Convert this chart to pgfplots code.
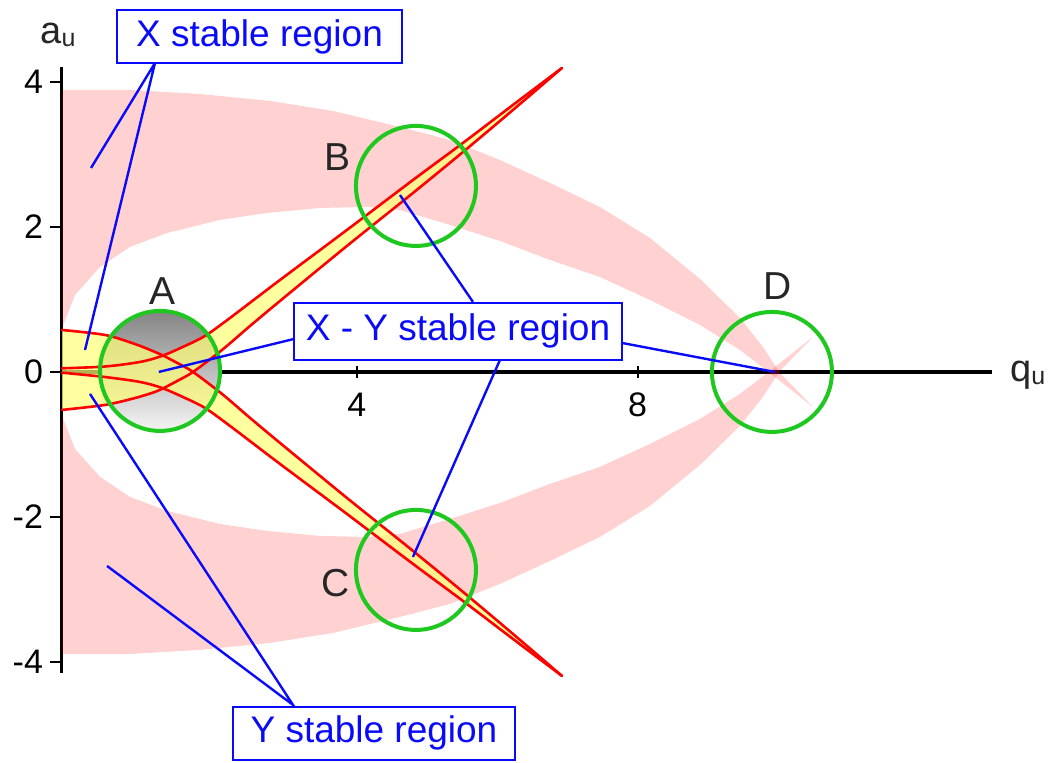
\documentclass[border=0pt]{standalone}
\usepackage{fontspec}
\setmainfont{Liberation Sans}
\usepackage{pgfplots}
\usepackage{pgfplotstable}
\pgfplotsset{compat=1.18}
\definecolor{stabpink}{RGB}{255,0,0}
\definecolor{lensyellow}{RGB}{255,255,119}
\definecolor{ringgreen}{RGB}{30,200,30}
\definecolor{notblue}{RGB}{10,10,250}

% red boundary curves (q_u, a_u)
\pgfplotstableread{
q a
-0.199 0.579
0.413 0.510
0.840 0.385
1.125 0.276
1.225 0.234
1.450 0.120
1.667 0.000
2.080 -0.303
2.479 -0.634
2.906 -0.979
3.860 -1.738
4.801 -2.469
5.513 -3.034
6.225 -3.614
6.923 -4.193
}\curveone
\pgfplotstableread{
q a
-0.199 -0.524
0.413 -0.455
0.840 -0.360
1.125 -0.276
1.225 -0.234
1.450 -0.120
1.667 0.000
2.080 0.303
2.479 0.634
2.906 0.979
3.860 1.738
4.801 2.469
5.513 3.034
6.225 3.614
6.923 4.193
}\curvetwo
\pgfplotstableread{
q a
-0.199 0.050
0.413 0.075
0.912 0.138
1.225 0.221
1.553 0.359
1.838 0.497
2.194 0.745
2.906 1.269
3.860 1.959
4.801 2.648
5.513 3.159
6.225 3.683
6.923 4.193
}\curvethree
\pgfplotstableread{
q a
-0.199 -0.010
0.413 -0.070
0.912 -0.138
1.225 -0.221
1.553 -0.359
1.838 -0.497
2.194 -0.745
2.906 -1.269
3.860 -1.959
4.801 -2.648
5.513 -3.159
6.225 -3.683
6.923 -4.193
}\curvefour

\begin{document}
\begin{tikzpicture}
\begin{axis}[
  x=35.1pt, y=36.25pt,
  xmin=-0.2, xmax=13.05, ymin=-4.15, ymax=4.2,
  axis x line*=middle, axis y line*=left,
  x axis line style={black, line width=2pt},
  y axis line style={black, line width=1.5pt},
  xtick={4,8}, ytick={-4,-2,0,2,4},
  xtick align=center, ytick align=outside,
  major tick length=6pt,
  tick style={black, line width=1pt},
  ticklabel style={font=\fontsize{17}{17}\selectfont},
  xticklabel style={yshift=-4pt},
  /pgf/number format/assume math mode=true,
  clip=false,
]
\path (axis cs:-1.083,5.131) rectangle (axis cs:13.903,-5.393);

% X and Y stable regions (pink crescents)
\addplot[fill=stabpink, fill opacity=0.18, draw=none] coordinates {
(-0.199,3.890) (0.769,3.890) (1.766,3.834) (2.764,3.738) (3.661,3.600) (4.615,3.379)
(5.328,3.200) (6.040,2.924) (6.752,2.607) (7.464,2.276) (8.177,1.848) (8.889,1.283)
(9.459,0.745) (9.786,0.345) (10.028,-0.014) (10.499,-0.483)
(9.886,-0.014) (9.459,0.303) (8.889,0.648) (8.177,0.993) (7.464,1.310) (6.752,1.545)
(6.040,1.807) (5.328,2.028) (4.615,2.234) (4.145,2.276) (3.476,2.262) (2.721,2.193)
(2.051,2.097) (1.296,1.917) (0.769,1.724) (0.342,1.448) (-0.014,1.062) (-0.199,0.607)
} --cycle;
\addplot[fill=stabpink, fill opacity=0.18, draw=none] coordinates {
(-0.199,-3.890) (0.769,-3.890) (1.766,-3.834) (2.764,-3.738) (3.661,-3.600) (4.615,-3.379)
(5.328,-3.200) (6.040,-2.924) (6.752,-2.607) (7.464,-2.276) (8.177,-1.848) (8.889,-1.283)
(9.459,-0.745) (9.786,-0.345) (10.028,0.014) (10.499,0.483)
(9.886,0.014) (9.459,-0.303) (8.889,-0.648) (8.177,-0.993) (7.464,-1.310) (6.752,-1.545)
(6.040,-1.807) (5.328,-2.028) (4.615,-2.234) (4.145,-2.276) (3.476,-2.262) (2.721,-2.193)
(2.051,-2.097) (1.296,-1.917) (0.769,-1.724) (0.342,-1.448) (-0.014,-1.062) (-0.199,-0.607)
} --cycle;

% grey disc A
\shade[top color=black!48, bottom color=black!4] (axis cs:1.197,0.014) circle[radius=30pt];

% X-Y stable region (yellow)
\addplot[fill=lensyellow, fill opacity=0.7, draw=none] coordinates {
(-0.199,0.579) (0.413,0.510) (0.840,0.385) (1.125,0.276) (1.225,0.234) (1.239,0.227)
(1.553,0.359) (1.838,0.497) (2.194,0.745) (2.906,1.269) (3.860,1.959) (4.801,2.648)
(5.513,3.159) (6.225,3.683) (6.923,4.193)
(6.225,3.614) (5.513,3.034) (4.801,2.469) (3.860,1.738) (2.906,0.979) (2.479,0.634)
(2.080,0.303) (1.667,0.000)
(2.080,-0.303) (2.479,-0.634) (2.906,-0.979) (3.860,-1.738) (4.801,-2.469) (5.513,-3.034)
(6.225,-3.614) (6.923,-4.193)
(6.225,-3.683) (5.513,-3.159) (4.801,-2.648) (3.860,-1.959) (2.906,-1.269) (2.194,-0.745)
(1.838,-0.497) (1.553,-0.359) (1.239,-0.227)
(1.225,-0.234) (1.125,-0.276) (0.840,-0.360) (0.413,-0.455) (-0.199,-0.524)
} --cycle;

\addplot[red, line width=1.3pt, smooth, line cap=round] table[x=q, y=a] {\curveone};
\addplot[red, line width=1.3pt, smooth, line cap=round] table[x=q, y=a] {\curvetwo};
\addplot[red, line width=1.3pt, smooth, line cap=round] table[x=q, y=a] {\curvethree};
\addplot[red, line width=1.3pt, smooth, line cap=round] table[x=q, y=a] {\curvefour};

% green rings
\draw[ringgreen, line width=2pt] (axis cs:1.197,0.014) circle[radius=30pt];
\draw[ringgreen, line width=2pt] (axis cs:4.843,2.566) circle[radius=30pt];
\draw[ringgreen, line width=2pt] (axis cs:4.843,-2.731) circle[radius=30pt];
\draw[ringgreen, line width=2pt] (axis cs:9.915,0.000) circle[radius=30pt];

% leader lines
\addplot[notblue, line width=1.2pt] coordinates {(0.214,2.814) (1.125,4.262) (0.128,0.303)};
\addplot[notblue, line width=1.2pt] coordinates {(0.442,-2.676) (3.091,-4.593) (0.199,-0.303)};
\addplot[notblue, line width=1.2pt] coordinates {(1.180,0.000) (3.105,0.455)};
\addplot[notblue, line width=1.2pt] coordinates {(7.778,0.400) (9.957,0.000)};
\addplot[notblue, line width=1.2pt] coordinates {(5.655,0.966) (4.615,2.441)};
\addplot[notblue, line width=1.2pt] coordinates {(6.040,0.166) (4.800,-2.552)};

% boxes
\tikzset{notebox/.style={draw=notblue, line width=1pt, fill=white, text=notblue,
  inner sep=0pt, minimum height=26.5pt, font=\fontsize{18.5}{18.5}\selectfont}}
\node[notebox, minimum width=142.5pt] at (axis cs:2.614,4.628) {X stable region};
\node[notebox, minimum width=141pt] at (axis cs:4.245,-4.986) {Y stable region};
\node[notebox, minimum width=164pt, minimum height=28.5pt] at (axis cs:5.442,0.559) {X - Y stable region};

% point labels
\tikzset{ptlabel/.style={font=\fontsize{19.5}{19.5}\selectfont, text=black!85}}
\node[ptlabel] at (axis cs:1.239,1.117) {A};
\node[ptlabel] at (axis cs:3.732,2.966) {B};
\node[ptlabel] at (axis cs:3.704,-2.910) {C};
\node[ptlabel] at (axis cs:10.000,1.186) {D};

% axis names
\node[font=\fontsize{19}{19}\selectfont, text=black!85] at (axis cs:-0.256,4.648) {a\raisebox{-1.5pt}{\fontsize{12.5}{12.5}\selectfont u}};
\node[font=\fontsize{19}{19}\selectfont, text=black!85] at (axis cs:13.56,-0.04) {q\raisebox{-1.5pt}{\fontsize{12.5}{12.5}\selectfont u}};
\end{axis}
\end{tikzpicture}
\end{document}
